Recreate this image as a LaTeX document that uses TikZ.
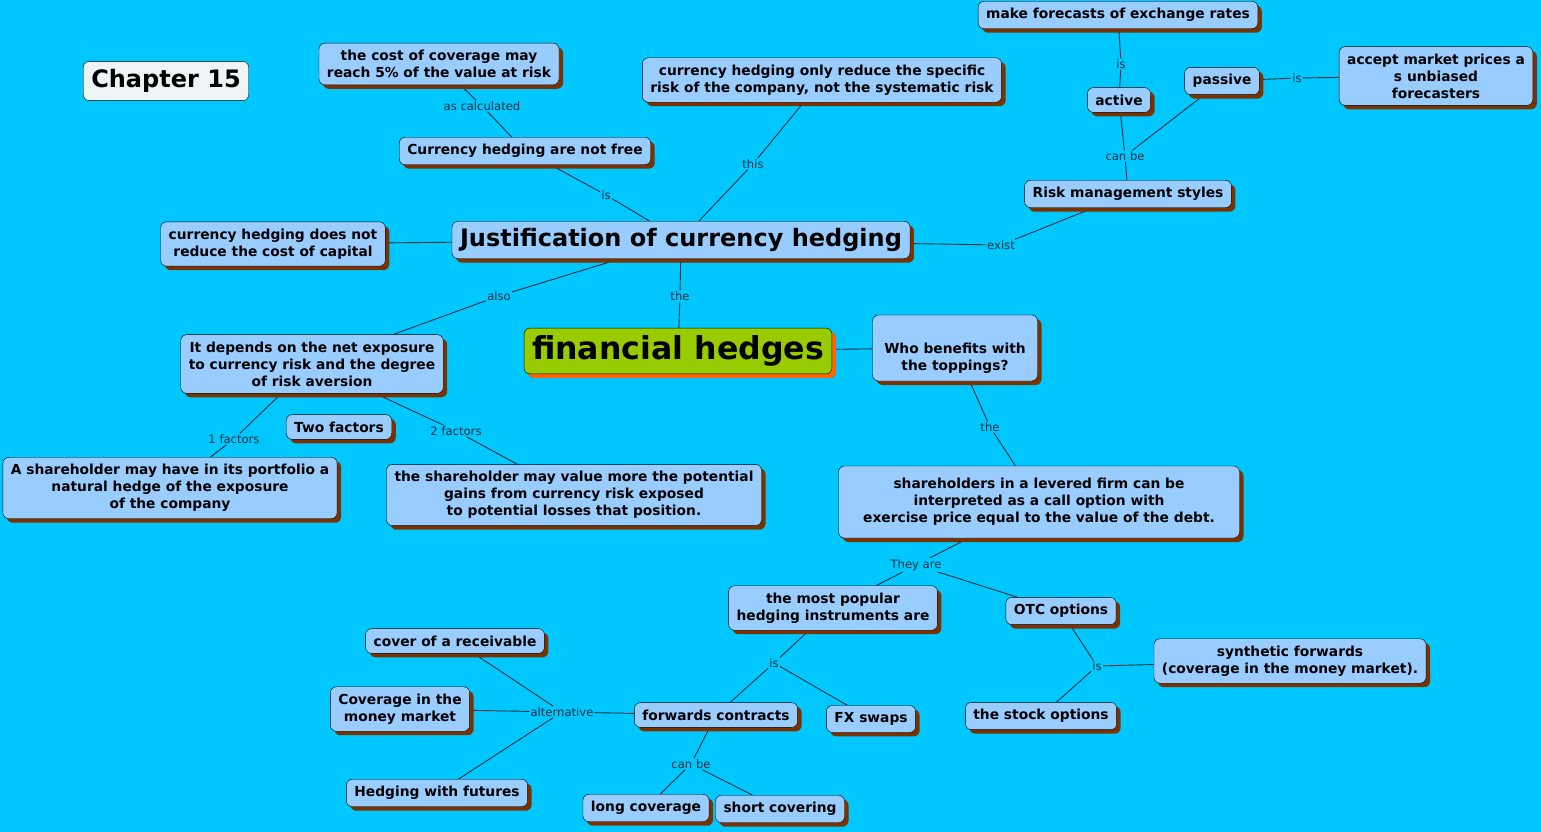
\documentclass[tikz,border=0pt]{standalone}
\usepackage{fontspec}
\setmainfont{DejaVu Sans}
\usetikzlibrary{shadows}
\definecolor{sky}{HTML}{00C8FF}
\definecolor{box}{HTML}{99CCFF}
\definecolor{shade}{HTML}{7A3300}
\definecolor{lime}{HTML}{99CC00}
\definecolor{tang}{HTML}{FF6600}
\definecolor{paper}{HTML}{EEF4F6}
\definecolor{ink}{HTML}{12303F}
\pgfdeclarelayer{bg}
\pgfdeclarelayer{edges}
\pgfsetlayers{bg,edges,main}
\begin{document}
\begin{tikzpicture}[x=1pt, y=-1pt,
  bx/.style={draw, rounded corners=6pt, fill=box, align=center, inner xsep=8pt, inner ysep=7pt,
    font=\fontsize{13.8}{17}\selectfont\bfseries},
  c/.style={bx, drop shadow={shadow xshift=4pt, shadow yshift=-4pt, fill=shade, opacity=1}},
  big/.style={font=\fontsize{24}{28}\selectfont\bfseries},
  lp/.style={fill=sky, inner sep=1pt, text=ink, font=\fontsize{11.6}{13}\selectfont},
  ln/.style={draw=ink, line width=0.9pt}
]
\begin{pgfonlayer}{bg}
  \fill[sky] (0,0) rectangle (1541,832);
\end{pgfonlayer}
\useasboundingbox (0,0) rectangle (1541,832);

% concepts
\node[bx, big, fill=paper, inner ysep=8pt] (ch) at (166,81) {Chapter 15};
\node[c] (cost) at (439,64) {the cost of coverage may\\reach 5\% of the value at risk};
\node[c] (free) at (525,151) {Currency hedging are not free};
\node[c] (spec) at (822,80) {currency hedging only reduce the specific\\risk of the company, not the systematic risk};
\node[c] (fore) at (1118,15) {make forecasts of exchange rates};
\node[c] (act) at (1119,100) {active};
\node[c] (pas) at (1222,81) {passive};
\node[c] (acc) at (1436,76) {accept market prices a\\s unbiased\\forecasters};
\node[c] (risk) at (1128,194) {Risk management styles};
\node[c] (capi) at (273,244) {currency hedging does not\\reduce the cost of capital};
\node[c, big] (just) at (681,240) {Justification of currency hedging};
\node[c] (dep) at (312,364) {It depends on the net exposure\\to currency risk and the degree\\of risk aversion};
\node[c, fill=lime, font=\fontsize{31.6}{36}\selectfont\bfseries, inner ysep=7.5pt,
  drop shadow={shadow xshift=4pt, shadow yshift=-4pt, fill=tang, opacity=1}] (fin) at (678,351) {financial hedges};
\node[c, minimum width=165pt, minimum height=66pt] (who) at (955,348) {\rule{0pt}{30pt}Who benefits with\\the toppings?};
\node[c] (two) at (339,427) {Two factors};
\node[c] (nat) at (170,488) {A shareholder may have in its portfolio a\\natural hedge of the exposure\\of the company};
\node[c] (gain) at (574,495) {the shareholder may value more the potential\\gains from currency risk exposed\\to potential losses that position.};
\node[c, minimum width=401pt, minimum height=72pt] (lev) at (1039,502) {shareholders in a levered firm can be\\interpreted as a call option with\\exercise price equal to the value of the debt.};
\node[c] (pop) at (833,608) {the most popular\\hedging instruments are};
\node[c] (otc) at (1061,611) {OTC options};
\node[c] (recv) at (455,641) {cover of a receivable};
\node[c] (mm) at (400,709) {Coverage in the\\money market};
\node[c] (fwd) at (716,715) {forwards contracts};
\node[c] (fx) at (871,719) {FX swaps};
\node[c] (syn) at (1290,661) {synthetic forwards\\(coverage in the money market).};
\node[c] (stock) at (1041,716) {the stock options};
\node[c] (fut) at (437,793) {Hedging with futures};
\node[c] (long) at (646,808) {long coverage};
\node[c] (short) at (780,809) {short covering};

% linking phrases
\node[lp] (l1) at (482,106) {as calculated};
\node[lp] (l2) at (606,195) {is};
\node[lp] (l3) at (753,164) {this};
\node[lp] (l4) at (1121,64) {is};
\node[lp] (l5) at (1125,156) {can be};
\node[lp] (l6) at (1297,78) {is};
\node[lp] (l7) at (1001,245) {exist};
\node[lp] (l8) at (499,296) {also};
\node[lp] (l9) at (680,296) {the};
\node[lp] (l10) at (234,439) {1 factors};
\node[lp] (l11) at (456,431) {2 factors};
\node[lp] (l12) at (990,427) {the};
\node[lp] (l13) at (916,565) {They are};
\node[lp] (l14) at (774,663) {is};
\node[lp] (l15) at (1097,666) {is};
\node[lp] (l16) at (562,712) {alternative};
\node[lp] (l17) at (691,764) {can be};

\begin{pgfonlayer}{edges}
\draw[ln] (cost) -- (l1) -- (free);
\draw[ln] (free) -- (l2) -- (just);
\draw[ln] (spec) -- (l3) -- (just);
\draw[ln] (just) -- (l7) -- (risk);
\draw[ln] (risk) -- (l5) -- (act);
\draw[ln] (l5) -- (pas);
\draw[ln] (act) -- (l4) -- (fore);
\draw[ln] (pas) -- (l6) -- (acc);
\draw[ln] (capi) -- (just);
\draw[ln] (just) -- (l8) -- (dep);
\draw[ln] (just) -- (l9) -- (fin);
\draw[ln] (fin) -- (who);
\draw[ln] (dep) -- (l10) -- (nat);
\draw[ln] (dep) -- (l11) -- (gain);
\draw[ln] (who) -- (l12) -- (lev);
\draw[ln] (lev) -- (l13) -- (pop);
\draw[ln] (l13) -- (otc);
\draw[ln] (pop) -- (l14) -- (fwd);
\draw[ln] (l14) -- (fx);
\draw[ln] (otc) -- (l15) -- (stock);
\draw[ln] (l15) -- (syn);
\draw[ln] (fwd) -- (l16) -- (recv);
\draw[ln] (l16) -- (mm);
\draw[ln] (l16) -- (fut);
\draw[ln] (fwd) -- (l17) -- (long);
\draw[ln] (l17) -- (short);
\end{pgfonlayer}
\end{tikzpicture}
\end{document}
